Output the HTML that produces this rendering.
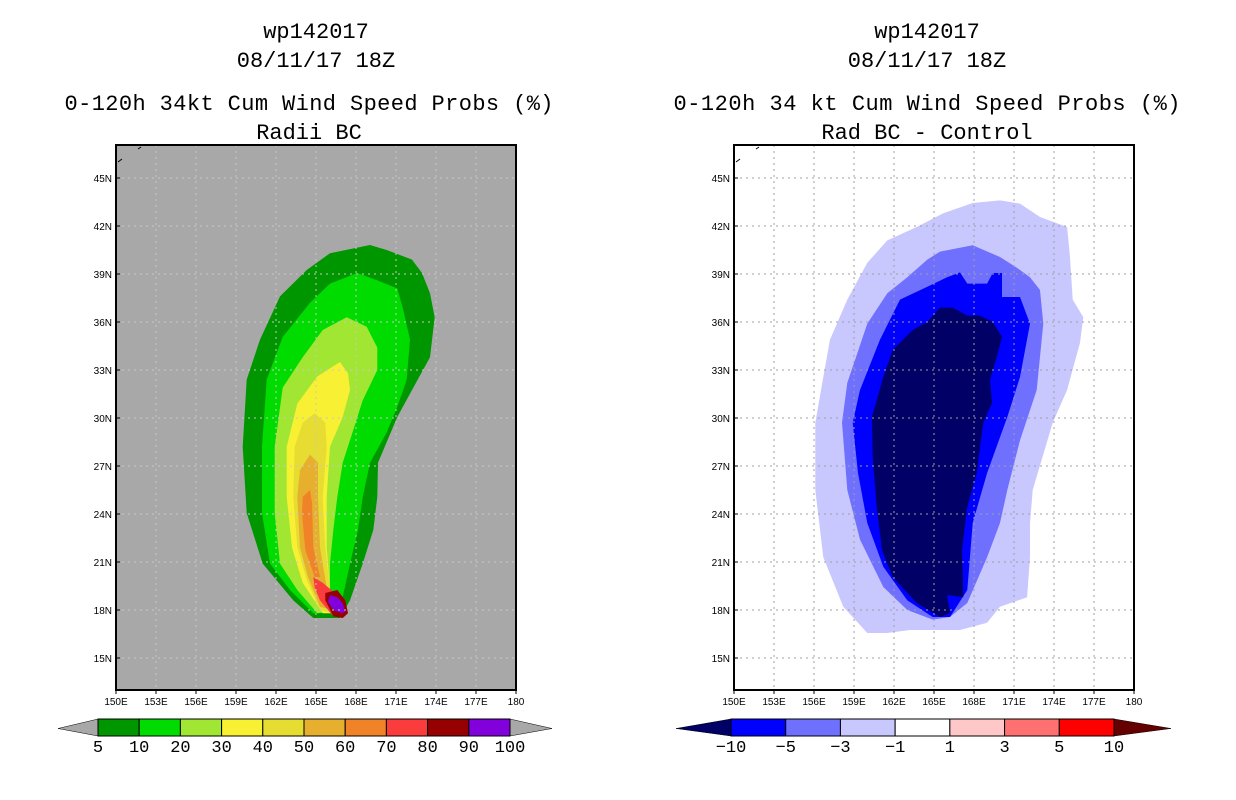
<!DOCTYPE html>
<html><head><meta charset="utf-8"><style>
html,body{margin:0;padding:0;background:#fff;}
svg{display:block;font-family:"Liberation Mono",monospace;}
</style></head><body>
<svg id="chart" width="1236" height="800" viewBox="0 0 1236 800">
<g font-size="22" text-anchor="middle" fill="#000">
<text x="316" y="38">wp142017</text>
<text x="316" y="67">08/11/17 18Z</text>
<text x="309" y="110" textLength="489">0-120h 34kt Cum Wind Speed Probs (%)</text>
<text x="309" y="139">Radii BC</text>
</g>
<g font-size="22" text-anchor="middle" fill="#000">
<text x="927" y="38">wp142017</text>
<text x="927" y="67">08/11/17 18Z</text>
<text x="927" y="110" textLength="507">0-120h 34 kt Cum Wind Speed Probs (%)</text>
<text x="927" y="139">Rad BC - Control</text>
</g>
<g id="leftMap"></g>
<g id="rightMap"></g>
<g id="leftBar"></g>
<g id="rightBar"></g>
</svg>
<script>
const lonTicks = [150,153,156,159,162,165,168,171,174,177,180];
const lonLabels = ["150E","153E","156E","159E","162E","165E","168E","171E","174E","177E","180"];
const latTicks = [15,18,21,24,27,30,33,36,39,42,45];
const latLabels = ["15N","18N","21N","24N","27N","30N","33N","36N","39N","42N","45N"];
const leftLevels = ["5","10","20","30","40","50","60","70","80","90","100"];
const leftColors = ["#009600","#00dc00","#a0e632","#f8f032","#e6dc32","#e6af2d","#f08228","#fa3c3c","#960000","#8200dc"];
const rightLevels = ["-10","-5","-3","-1","1","3","5","10"];
const rightColors = ["#0000ff","#7070ff","#c8c8ff","#ffffff","#ffc8c8","#ff7070","#ff0000"];
const rightFill = ["#000066","#0000ff","#7070ff","#c8c8ff"];

const p5 = [[169.05,40.81],[170.3,40.5],[172.2,39.9],[172.95,39.06],[173.55,37.8],[173.9,36.3],[173.55,33.8],[172.2,31.75],[171.1,30.06],[169.65,27.2],[169.6,25.06],[169.3,23.0],[168.5,20.9],[167.55,18.6],[166.8,17.5],[164.8,17.5],[163.3,18.6],[161.0,20.9],[159.8,24.06],[159.5,28.2],[159.8,32.4],[160.8,34.9],[162.3,37.6],[164.3,39.25],[166.05,40.3]];
const p10 = [[168.1,39.06],[169.6,38.6],[171.1,38.1],[171.5,36.9],[172.05,34.9],[171.8,32.4],[171.1,30.7],[170.3,29.1],[169.05,27.2],[168.5,25.06],[168.15,23.0],[167.55,20.9],[167.0,18.8],[166.6,17.8],[164.8,17.8],[163.05,19.25],[161.55,20.9],[160.95,24.06],[160.95,28.2],[161.3,32.4],[162.5,35.06],[164.55,37.2],[166.05,38.4]];
const p20 = [[167.3,36.3],[168.8,35.7],[169.6,34.4],[169.6,33.0],[168.5,31.1],[167.8,29.25],[167.0,27.2],[166.6,25.06],[166.3,23.0],[166.05,20.9],[166.05,19.25],[166.6,18.0],[165.1,17.8],[163.6,19.25],[162.3,20.9],[161.9,24.06],[161.9,28.2],[162.5,31.9],[164.0,33.8],[165.5,35.5]];
const p30 = [[166.8,33.5],[167.4,32.8],[167.55,31.75],[167.0,30.06],[166.05,28.2],[165.8,25.06],[165.8,21.9],[166.05,19.25],[166.6,17.8],[165.5,17.8],[164.0,19.7],[163.2,21.9],[162.8,25.06],[162.8,28.2],[163.6,30.9],[165.1,32.6]];
const p40 = [[164.9,30.3],[165.7,29.7],[165.8,28.2],[165.5,25.06],[165.7,21.9],[166.05,19.25],[166.3,17.8],[165.3,18.0],[164.3,19.9],[163.6,21.9],[163.3,25.06],[163.4,28.2],[164.0,29.7]];
const p50 = [[164.55,27.7],[165.15,27.2],[165.15,25.06],[165.3,21.9],[165.8,19.4],[166.2,18.0],[165.3,18.2],[164.4,20.06],[163.8,21.9],[163.6,25.06],[163.8,26.75]];
const p60 = [[164.55,25.5],[164.7,24.7],[164.8,21.9],[165.3,20.06],[164.9,20.06],[164.2,21.75],[163.95,24.06],[164.0,25.06]];
const p70 = [[164.8,20.06],[165.5,19.7],[166.8,18.8],[167.3,18.2],[167.2,17.6],[166.3,17.6],[165.3,18.6],[164.9,19.4]];
const p80 = [[165.7,19.06],[166.6,19.25],[167.2,18.6],[167.4,17.8],[167.0,17.5],[166.3,17.6],[165.7,18.6]];
const p90 = [[166.05,18.94],[166.6,18.8],[167.0,18.44],[167.2,17.9],[166.95,17.8],[166.3,18.0],[165.9,18.5]];

const r1 = [[169.95,43.6],[171.45,43.4],[172.95,42.56],[174.98,41.94],[175.2,40.06],[175.4,37.4],[176.2,36.3],[175.95,34.7],[174.98,31.75],[173.9,29.7],[172.4,25.5],[172.2,23.44],[172.2,21.3],[171.98,18.8],[169.95,18.2],[168.98,17.2],[166.95,16.75],[163.2,16.75],[161.5,16.56],[160.0,16.56],[158.2,18.2],[156.7,21.3],[156.1,25.5],[156.1,29.7],[156.7,32.56],[157.2,34.9],[158.5,37.4],[160.0,39.7],[161.5,41.1],[163.7,41.94],[165.7,42.8],[167.9,43.44]];
const r3 = [[165.45,40.4],[167.9,40.8],[169.95,40.06],[171.2,39.4],[172.2,38.8],[172.95,38.0],[173.2,35.9],[172.7,31.75],[171.45,28.6],[170.5,25.5],[169.95,23.44],[168.98,21.3],[167.5,18.44],[166.2,17.56],[164.9,17.4],[163.0,18.0],[161.2,19.44],[159.45,22.4],[158.5,25.5],[158.1,29.7],[158.5,32.2],[160.0,35.9],[161.5,37.8],[163.0,38.8],[164.5,39.9]];
const r5 = [[165.98,38.8],[166.95,39.1],[167.5,38.4],[168.98,38.4],[169.4,39.06],[170.1,39.06],[170.1,37.56],[171.45,37.56],[172.2,35.9],[171.45,32.56],[170.5,30.06],[168.98,26.56],[167.9,23.44],[167.5,19.25],[166.2,17.56],[164.9,17.56],[163.0,18.6],[161.2,20.7],[160.0,23.44],[159.3,26.56],[158.9,29.7],[159.45,31.75],[160.95,34.9],[162.45,37.4],[164.5,38.2]];
const r10 = [[165.45,36.9],[166.4,36.9],[167.5,36.4],[168.45,36.4],[169.4,36.0],[170.1,35.06],[169.7,33.8],[169.2,32.4],[169.35,30.94],[168.7,29.7],[168.2,26.56],[167.5,24.44],[167.1,21.75],[167.2,18.8],[165.98,18.94],[166.2,17.8],[165.45,17.56],[163.7,18.44],[161.9,20.06],[161.1,21.75],[160.7,24.44],[160.4,27.56],[160.35,30.06],[161.2,32.56],[161.9,34.25],[163.4,35.5],[164.5,36.0]];

const NS = "http://www.w3.org/2000/svg";
const MAP_TOP = 145, MAP_BOT = 690;
function yLat(lat){ return 178 + (45 - lat) * 16; }
function xLonL(lon){ return 116 + (lon - 150) * 400 / 30; }
function xLonR(lon){ return 734 + (lon - 150) * 400 / 30; }
function mk(tag, attrs, parent){ const e = document.createElementNS(NS, tag); for (const k in attrs) e.setAttribute(k, attrs[k]); parent.appendChild(e); return e; }
function ptsStr(poly, xf){ return poly.map(p => xf(p[0]).toFixed(1) + "," + yLat(p[1]).toFixed(1)).join(" "); }

function drawMap(g, xf, bg, gridColor, polys, colors, names){
  const bgr = mk("rect", {x: xf(150), y: MAP_TOP, width: xf(180) - xf(150), height: MAP_BOT - MAP_TOP, fill: bg}, g);
  
  
  polys.forEach((poly, i) => {
    const pg = mk("polygon", {points: ptsStr(poly, xf), fill: colors[i]}, g);
    
    
  });
  const grid = mk("g", {stroke: gridColor, "stroke-width": 1, "stroke-dasharray": "2,4"}, g);
  
  
  lonTicks.slice(1, -1).forEach(lon => { mk("line", {x1: xf(lon), x2: xf(lon), y1: MAP_TOP, y2: MAP_BOT}, grid); });
  latTicks.forEach(lat => { mk("line", {x1: xf(150), x2: xf(180), y1: yLat(lat), y2: yLat(lat)}, grid); });
  const fr = mk("rect", {x: xf(150), y: MAP_TOP, width: xf(180) - xf(150), height: MAP_BOT - MAP_TOP, fill: "none", stroke: "#000", "stroke-width": 2}, g);
  
  
  mk("path", {d: `M${xf(150)+2} ${MAP_TOP+17} l4 -3 M${xf(150)+22} ${MAP_TOP+4} l3 -2`, stroke: "#000", "stroke-width": 1}, g);
  const lab = mk("g", {"font-size": 10, fill: "#000", "font-family": "Liberation Sans, sans-serif"}, g);
  
  
  latTicks.forEach((lat, i) => {
    mk("line", {x1: xf(150), x2: xf(150) + 4, y1: yLat(lat), y2: yLat(lat), stroke: "#000"}, g);
    const t = mk("text", {x: xf(150) - 4, y: yLat(lat) + 4, "text-anchor": "end"}, lab);
    t.textContent = latLabels[i];
    
    
  });
  lonTicks.forEach((lon, i) => {
    mk("line", {x1: xf(lon), x2: xf(lon), y1: MAP_BOT, y2: MAP_BOT + 4, stroke: "#000"}, g);
    const t = mk("text", {x: xf(lon), y: MAP_BOT + 15, "text-anchor": "middle"}, lab);
    t.textContent = lonLabels[i];
    
    
  });
}

function drawBar(g, x0, x1, triL, triR, levels, colors, leftTri, rightTri){
  const n = colors.length, w = (x1 - x0) / n, y0 = 719, h = 17;
  const tl = mk("polygon", {points: `${x0},${y0} ${x0},${y0+h} ${triL},${y0+h/2+1}`, fill: leftTri, stroke: "#000", "stroke-width": 0.5}, g);
  
  
  const tr = mk("polygon", {points: `${x1},${y0} ${x1},${y0+h} ${triR},${y0+h/2+1}`, fill: rightTri, stroke: "#000", "stroke-width": 0.5}, g);
  
  
  colors.forEach((c, i) => {
    const r = mk("rect", {x: x0 + i * w, y: y0, width: w, height: h, fill: c, stroke: "#000", "stroke-width": 1}, g);
    
    
  });
  levels.forEach((lv, i) => {
    const t = mk("text", {x: x0 + i * w, y: 752, "text-anchor": "middle", "font-size": 17, fill: "#000"}, g);
    t.textContent = lv.replace("-", "\u2212");
    
    
  });
}

drawMap(document.getElementById("leftMap"), xLonL, "#a8a8a8", "#c8c8c8",
  [p5,p10,p20,p30,p40,p50,p60,p70,p80,p90], leftColors,
  ["contour-5","contour-10","contour-20","contour-30","contour-40","contour-50","contour-60","contour-70","contour-80","contour-90"]);
drawMap(document.getElementById("rightMap"), xLonR, "#ffffff", "#a0a0a0",
  [r1,r3,r5,r10], [rightFill[3],rightFill[2],rightFill[1],rightFill[0]],
  ["diff-minus-1","diff-minus-3","diff-minus-5","diff-minus-10"]);
drawBar(document.getElementById("leftBar"), 98, 510, 58, 552, leftLevels, leftColors, "#a8a8a8", "#a8a8a8");
drawBar(document.getElementById("rightBar"), 731, 1114, 676, 1171, rightLevels, rightColors, "#000066", "#640000");
</script>
</body></html>
